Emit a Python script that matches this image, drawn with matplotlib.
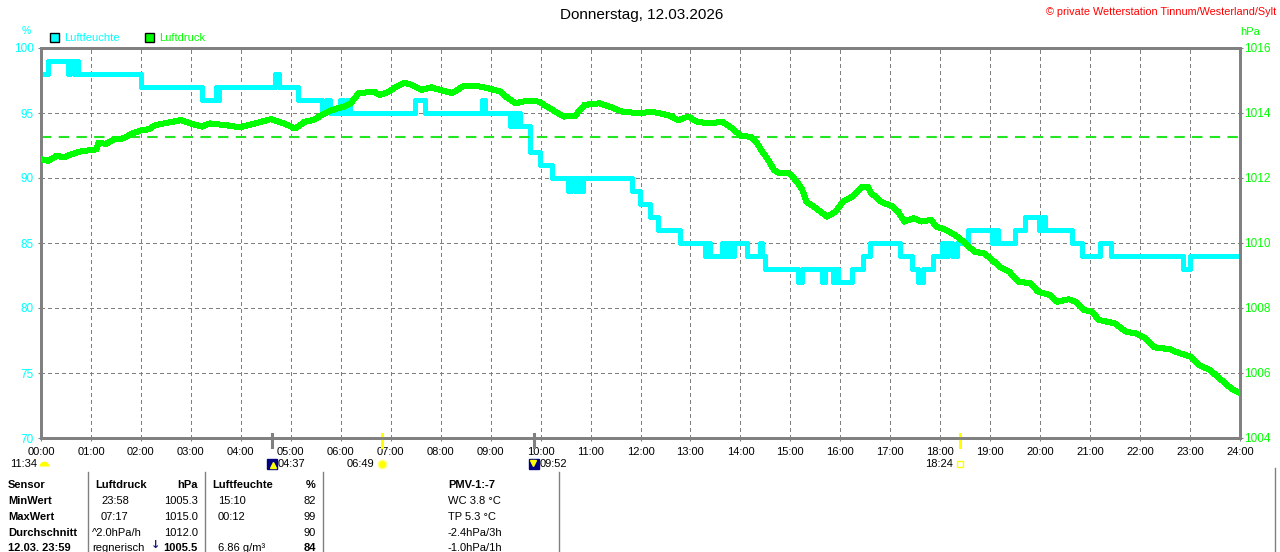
#!/usr/bin/env python3

import matplotlib
matplotlib.use('Agg')
import matplotlib.pyplot as plt
from matplotlib.transforms import blended_transform_factory

################################################################################
# Daten

# Luftfeuchte: Stufen (Beginn in Stunden, Wert in %)
hum_t = [0.00, 0.14, 0.54, 0.58, 0.66, 0.70, 0.74, 2.00, 3.22, 3.50, 3.52, 3.56,
         4.68, 4.76, 5.14, 5.62, 5.70, 5.78, 5.98, 6.04, 6.12, 6.18, 7.49, 7.69,
         8.83, 8.89, 9.39, 9.45, 9.51, 9.55, 9.59, 9.79, 9.99, 10.23, 10.55, 10.61,
         10.69, 10.75, 10.79, 10.85, 11.83, 11.99, 12.19, 12.35, 12.79, 13.29, 13.35,
         13.39, 13.63, 13.69, 13.75, 13.81, 13.87, 14.13, 14.39, 14.43, 14.49, 15.15,
         15.23, 15.63, 15.69, 15.85, 15.89, 15.95, 16.23, 16.45, 16.59, 17.19, 17.43,
         17.55, 17.65, 17.85, 18.03, 18.09, 18.15, 18.23, 18.34, 18.55, 19.04, 19.10,
         19.16, 19.50, 19.70, 19.98, 20.06, 20.10, 20.64, 20.84, 21.20, 21.42, 22.86,
         22.99, 24.00]
hum_v = [98, 99, 98, 99, 98, 99, 98, 97, 96, 97, 96, 97,
         98, 97, 96, 95, 96, 95, 96, 95, 96, 95, 96, 95,
         96, 95, 94, 95, 94, 95, 94, 92, 91, 90, 89, 90,
         89, 90, 89, 90, 89, 88, 87, 86, 85, 84, 85,
         84, 85, 84, 85, 84, 85, 84, 85, 84, 83, 82,
         83, 82, 83, 82, 83, 82, 83, 84, 85, 84, 83,
         82, 83, 84, 85, 84, 85, 84, 85, 86, 85, 86,
         85, 86, 87, 86, 87, 86, 85, 84, 85, 84, 83,
         84, 84]

# Luftdruck in hPa
druck_t = [0.00, 0.15, 0.31, 0.46, 0.57, 0.77, 0.99, 1.11, 1.15, 1.30, 1.46, 1.65,
           1.84, 1.99, 2.15, 2.30, 2.53, 2.80, 2.99, 3.22, 3.37, 3.68, 3.98, 4.29,
           4.60, 4.82, 5.09, 5.28, 5.44, 5.63, 5.82, 6.05, 6.20, 6.36, 6.67, 6.78,
           6.97, 7.09, 7.28, 7.43, 7.62, 7.81, 8.04, 8.23, 8.46, 8.73, 8.96, 9.19,
           9.35, 9.50, 9.73, 9.96, 10.19, 10.46, 10.69, 10.88, 11.18, 11.41, 11.64,
           11.99, 12.22, 12.45, 12.60, 12.76, 12.95, 13.14, 13.37, 13.64, 13.83, 14.02,
           14.21, 14.33, 14.44, 14.56, 14.67, 14.79, 14.98, 15.13, 15.24, 15.32, 15.51,
           15.74, 15.90, 16.05, 16.24, 16.43, 16.55, 16.62, 16.82, 17.05, 17.16, 17.28,
           17.47, 17.62, 17.81, 17.93, 18.12, 18.35, 18.50, 18.69, 18.88, 19.04, 19.19,
           19.38, 19.57, 19.80, 19.96, 20.19, 20.34, 20.57, 20.72, 20.87, 21.03, 21.18,
           21.49, 21.72, 21.91, 22.10, 22.29, 22.60, 22.79, 23.02, 23.17, 23.40, 23.63,
           23.82, 23.98]
druck_v = [1012.58, 1012.53, 1012.68, 1012.64, 1012.71, 1012.81, 1012.86, 1012.88,
           1013.09, 1013.05, 1013.19, 1013.22, 1013.38, 1013.46, 1013.50, 1013.63,
           1013.70, 1013.78, 1013.68, 1013.58, 1013.68, 1013.63, 1013.56, 1013.68,
           1013.81, 1013.70, 1013.53, 1013.73, 1013.78, 1013.94, 1014.09, 1014.19,
           1014.30, 1014.61, 1014.66, 1014.55, 1014.66, 1014.79, 1014.93, 1014.86,
           1014.71, 1014.79, 1014.69, 1014.61, 1014.83, 1014.83, 1014.76, 1014.66,
           1014.45, 1014.30, 1014.38, 1014.35, 1014.14, 1013.89, 1013.91, 1014.25,
           1014.30, 1014.18, 1014.04, 1013.99, 1014.04, 1013.97, 1013.91, 1013.78,
           1013.89, 1013.73, 1013.68, 1013.73, 1013.53, 1013.29, 1013.27, 1013.07,
           1012.81, 1012.55, 1012.25, 1012.14, 1012.14, 1011.89, 1011.63, 1011.27,
           1011.07, 1010.81, 1010.96, 1011.27, 1011.43, 1011.73, 1011.73, 1011.53,
           1011.27, 1011.12, 1010.96, 1010.66, 1010.76, 1010.66, 1010.71, 1010.50,
           1010.40, 1010.19, 1009.99, 1009.73, 1009.68, 1009.48, 1009.27, 1009.12,
           1008.81, 1008.76, 1008.50, 1008.40, 1008.19, 1008.27, 1008.19, 1007.94,
           1007.89, 1007.63, 1007.53, 1007.27, 1007.22, 1007.07, 1006.79, 1006.73,
           1006.61, 1006.50, 1006.25, 1006.09, 1005.78, 1005.53, 1005.40]

normaldruck = 1013.25

stunden = list(range(25))
stunden_labels = ["%02d:00" % h for h in stunden]
hum_ticks = [70, 75, 80, 85, 90, 95, 100]
druck_ticks = [1004, 1006, 1008, 1010, 1012, 1014, 1016]

# Mond / Sonne
mond_auf = "04:37"
sonne_auf = "06:49"
mond_unter = "09:52"
sonne_unter = "18:24"
mondphase = "11:34"

# Tabelle unten
tab_sensor = ["Sensor", "MinWert", "MaxWert", "Durchschnitt", "12.03. 23:59"]
tab_druck_a = ["Luftdruck", "23:58", "07:17", "^2.0hPa/h", "regnerisch"]
tab_druck_b = ["hPa", "1005.3", "1015.0", "1012.0", "1005.5"]
tab_feuchte_a = ["Luftfeuchte", "15:10", "00:12", "", "6.86 g/m\u00b3"]
tab_feuchte_b = ["%", "82", "99", "90", "84"]
tab_extra = ["PMV-1:-7", "WC 3.8 \u00b0C", "TP 5.3 \u00b0C", "-2.4hPa/3h", "-1.0hPa/1h"]

################################################################################

CYAN = '#00ffff'
GRUEN = '#00ff00'
GRAU = '#808080'
GELB = '#ffff00'
W, H = 1280, 552

plt.rcParams['font.family'] = ['Liberation Sans', 'DejaVu Sans']
plt.rcParams['font.size'] = 8

def fx(x):
	return x / W

def fy(y):
	return 1 - y / H

def zeit(s):
	h, m = s.split(':')
	return int(h) + int(m) / 60.0

fig = plt.figure(figsize=(W / 100, H / 100), dpi=100)
ax = fig.add_axes([fx(41), fy(438), (1240 - 41) / W, 390 / H])
ax2 = ax.twinx()

ax.set_xlim(0, 24)
ax.set_ylim(70, 100)
ax2.set_ylim(1004, 1016)

ax.set_xticks(stunden)
ax.set_xticklabels(stunden_labels)
ax.set_yticks(hum_ticks)
ax2.set_yticks(druck_ticks)

ax.grid(True, color=GRAU, linestyle=(0, (3, 3)), linewidth=0.8, antialiased=False)
ax.tick_params(axis='x', length=2, pad=4.5, colors=GRAU, labelcolor='black', labelsize=8)
ax.tick_params(axis='y', length=2, pad=3, colors=GRAU, labelcolor=CYAN, labelsize=8.5)
ax2.tick_params(axis='y', length=2, pad=1, colors=GRAU, labelcolor=GRUEN, labelsize=8.5)
for a in (ax, ax2):
	for s in a.spines.values():
		s.set_color(GRAU)
		s.set_linewidth(2)

ax.step(hum_t, hum_v, where='post', color=CYAN, linewidth=2.4, zorder=3, antialiased=False)
ax2.axhline(normaldruck, color='#22e622', linestyle=(0, (5, 3.5)), linewidth=1.5, zorder=1)
ax2.plot(druck_t, druck_v, color=GRUEN, linewidth=3.6, zorder=4, antialiased=False)

# Markierungen an der Zeitachse
trans = blended_transform_factory(ax.transData, fig.transFigure)
for t, farbe in [(mond_auf, GRAU), (mond_unter, GRAU), (sonne_auf, GELB), (sonne_unter, GELB)]:
	ax.plot([zeit(t), zeit(t)], [fy(434), fy(447)], color=farbe, linewidth=2.2,
		transform=trans, clip_on=False, zorder=5)

y2 = fy(464)
# Mondaufgang
ax.plot(zeit(mond_auf), y2, marker='s', markersize=7, color='#000080', transform=trans, clip_on=False)
ax.plot(zeit(mond_auf) + 0.02, y2 - 0.002, marker='^', markersize=4, color=GELB, transform=trans, clip_on=False)
ax.text(zeit(mond_auf) + 0.12, y2, mond_auf, transform=trans, ha='left', va='center', fontsize=8)
# Monduntergang
ax.plot(zeit(mond_unter), y2, marker='s', markersize=7, color='#000080', transform=trans, clip_on=False)
ax.plot(zeit(mond_unter) - 0.02, y2 + 0.002, marker='v', markersize=4, color=GELB, transform=trans, clip_on=False)
ax.text(zeit(mond_unter) + 0.12, y2, mond_unter, transform=trans, ha='left', va='center', fontsize=8)
# Sonnenaufgang
ax.plot(zeit(sonne_auf), y2, marker='o', markersize=6, color=GELB, markeredgecolor='#ffff80',
	transform=trans, clip_on=False)
ax.text(zeit(sonne_auf) - 0.14, y2, sonne_auf, transform=trans, ha='right', va='center', fontsize=8)
# Sonnenuntergang
ax.plot(zeit(sonne_unter), y2, marker='s', markersize=4, fillstyle='none', color=GELB,
	markeredgewidth=1, transform=trans, clip_on=False)
ax.text(zeit(sonne_unter) - 0.14, y2, sonne_unter, transform=trans, ha='right', va='center', fontsize=8)
# Mondphase
fig.text(fx(37), y2, mondphase, ha='right', va='center', fontsize=8)
fig.lines.append(plt.Line2D([fx(44)], [y2 - 0.003], marker='o', markersize=7, fillstyle='top',
	color=GELB, markeredgewidth=0, transform=fig.transFigure))

# Kopf
fig.text(fx(642), fy(15), "Donnerstag, 12.03.2026", ha='center', va='center', fontsize=11)
fig.text(fx(1276), fy(12), "\u00a9 private Wetterstation Tinnum/Westerland/Sylt", ha='right',
	va='center', fontsize=7.8, color='red')
fig.text(fx(26), fy(31), "%", ha='center', va='center', fontsize=7.5, color=CYAN)
fig.text(fx(1250), fy(32), "hPa", ha='center', va='center', fontsize=8, color=GRUEN)

# Legende
for xq, farbe, name in [(50, CYAN, "Luftfeuchte"), (145, GRUEN, "Luftdruck")]:
	fig.patches.append(plt.Rectangle((fx(xq), fy(42)), 9 / W, 9 / H, facecolor=farbe,
		edgecolor='black', linewidth=1, transform=fig.transFigure))
	fig.text(fx(xq + 14), fy(38), name, ha='left', va='center', fontsize=8, color=farbe)

# Tabelle
for xl in [88, 205, 323, 559]:
	fig.lines.append(plt.Line2D([fx(xl), fx(xl)], [fy(472), 0], color=GRAU, linewidth=1,
		transform=fig.transFigure))
fig.lines.append(plt.Line2D([fx(1275), fx(1275)], [fy(468), 0], color=GRAU, linewidth=1,
	transform=fig.transFigure))

zeilen = [485, 501, 517, 533, 548]
for i, yz in enumerate(zeilen):
	kopf = (i == 0)
	fig.text(fx(8), fy(yz), tab_sensor[i], ha='left', va='center', fontsize=8, fontweight='bold')
	xa = 95 if kopf else (92 if i >= 3 else 101)
	fig.text(fx(xa), fy(yz), tab_druck_a[i], ha='left', va='center', fontsize=8,
		fontweight='bold' if kopf else 'normal')
	fig.text(fx(198), fy(yz), tab_druck_b[i], ha='right', va='center', fontsize=8,
		fontweight='bold' if kopf or i == 4 else 'normal')
	xb = 212 if kopf else 218
	fig.text(fx(xb), fy(yz), tab_feuchte_a[i], ha='left', va='center', fontsize=8,
		fontweight='bold' if kopf else 'normal')
	fig.text(fx(316), fy(yz), tab_feuchte_b[i], ha='right', va='center', fontsize=8,
		fontweight='bold' if kopf or i == 4 else 'normal')
	fig.text(fx(448), fy(yz), tab_extra[i], ha='left', va='center', fontsize=8,
		fontweight='bold' if kopf else 'normal')
# Tendenzpfeil
fig.text(fx(156), fy(545), "\u2193", ha='center', va='center', fontsize=8, fontweight='bold',
	color='#1a1a80', family='DejaVu Sans')

fig.savefig('out.png', dpi=100, facecolor='white')
